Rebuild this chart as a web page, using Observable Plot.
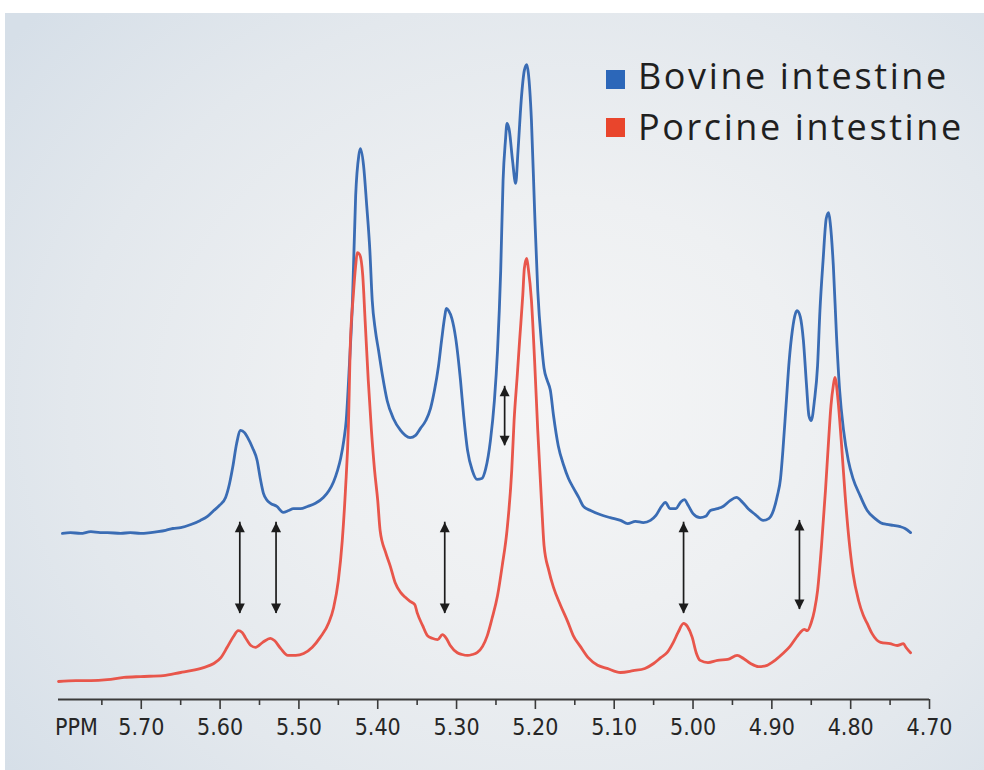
<!DOCTYPE html>
<html>
<head>
<meta charset="utf-8">
<script src="https://cdn.jsdelivr.net/npm/d3@7"></script>
<script src="https://cdn.jsdelivr.net/npm/@observablehq/plot@0.6"></script>
<style>
  html, body { margin: 0; padding: 0; background: #ffffff; }
  #wrap { position: relative; width: 984px; height: 770px; overflow: hidden; }
  #backdrop {
    position: absolute; left: 5px; top: 13px; right: 0; bottom: 0;
    background: radial-gradient(ellipse 72% 78% at 57% 52%, #f4f5f6 0%, #eef0f2 35%, #e3e8ed 70%, #d6dfe8 100%);
  }
  #chart { position: absolute; left: 0; top: 0; }
  .key-swatch { position: absolute; width: 19px; height: 19px; }
  .key-label {
    position: absolute; font-family: "Open Sans", "Noto Sans", sans-serif;
    font-size: 36px; line-height: 36px; letter-spacing: 2.6px; color: #1f1f1f; white-space: nowrap;
  }
</style>
</head>
<body>
<div id="wrap">
  <div id="backdrop"></div>
  <div id="chart"></div>
  <div class="key-swatch" style="left:606px; top:70px; background:#2c67b9;"></div>
  <div class="key-label" style="left:638px; top:58px;">Bovine intestine</div>
  <div class="key-swatch" style="left:606px; top:118px; background:#e9452c;"></div>
  <div class="key-label" style="left:638px; top:109px;">Porcine intestine</div>
</div>
<script>
// 1H NMR spectra, anomeric region: [chemical shift (ppm), intensity]
// Intensities share one arbitrary scale (tallest porcine peak ≈ 100).
const bovine = [
  [5.800,3.9],[5.790,4.1],[5.777,3.9],[5.764,4.3],[5.752,4.1],[5.743,4.1],[5.726,3.9],[5.714,4.1],
  [5.701,3.9],[5.688,4.1],[5.679,4.3],[5.669,4.6],[5.660,5.0],[5.650,5.2],[5.637,5.9],[5.625,6.8],
  [5.616,7.7],[5.608,9.0],[5.601,10.1],[5.593,11.9],[5.588,15.0],[5.584,18.6],[5.579,23.9],[5.574,26.8],
  [5.569,26.3],[5.565,25.2],[5.559,23.0],[5.553,20.1],[5.549,16.1],[5.545,12.8],[5.540,11.2],[5.536,10.6],
  [5.528,9.9],[5.520,8.6],[5.513,9.0],[5.507,9.4],[5.498,9.4],[5.489,9.9],[5.479,10.6],[5.469,11.9],
  [5.462,13.4],[5.456,15.4],[5.451,17.9],[5.447,20.6],[5.443,24.6],[5.440,29.0],[5.436,41.2],[5.432,55.7],
  [5.428,79.0],[5.424,87.9],[5.422,89.4],[5.418,85.7],[5.414,76.8],[5.410,66.8],[5.407,55.7],[5.403,49.0],
  [5.399,44.6],[5.394,39.0],[5.388,33.4],[5.380,29.4],[5.371,26.8],[5.365,25.7],[5.359,25.2],[5.352,25.7],
  [5.346,27.2],[5.339,29.0],[5.333,31.7],[5.328,35.7],[5.323,41.0],[5.319,46.8],[5.315,52.1],[5.313,53.9],
  [5.310,53.4],[5.306,51.7],[5.301,47.2],[5.295,37.9],[5.291,30.1],[5.286,22.3],[5.280,17.9],[5.274,15.9],
  [5.268,16.1],[5.263,18.3],[5.257,24.6],[5.252,33.4],[5.248,44.6],[5.244,62.3],[5.241,82.3],[5.238,91.2],
  [5.236,95.0],[5.233,93.4],[5.229,86.8],[5.225,81.7],[5.222,89.0],[5.218,100.1],[5.214,106.8],[5.211,108.1],
  [5.209,106.3],[5.205,95.7],[5.201,75.7],[5.197,57.9],[5.192,45.7],[5.189,40.6],[5.185,37.9],[5.181,35.7],
  [5.177,30.1],[5.171,23.4],[5.164,19.0],[5.158,16.1],[5.152,14.1],[5.145,11.9],[5.139,9.9],[5.130,9.0],
  [5.118,8.1],[5.105,7.4],[5.092,6.8],[5.083,6.1],[5.073,6.6],[5.063,6.3],[5.054,6.8],[5.047,7.9],
  [5.040,9.9],[5.035,10.8],[5.029,9.4],[5.022,9.4],[5.016,10.8],[5.011,11.4],[5.006,10.1],[5.000,8.3],
  [4.991,7.4],[4.984,7.7],[4.978,9.0],[4.969,9.4],[4.962,9.9],[4.953,11.2],[4.945,11.9],[4.937,10.8],
  [4.930,9.4],[4.921,8.1],[4.911,6.8],[4.904,7.2],[4.898,9.0],[4.893,12.3],[4.889,16.1],[4.886,22.3],
  [4.882,32.3],[4.878,42.3],[4.874,49.0],[4.870,52.8],[4.868,53.4],[4.864,52.1],[4.860,46.8],[4.856,36.8],
  [4.853,30.1],[4.850,29.0],[4.846,33.4],[4.842,41.2],[4.839,53.4],[4.835,64.6],[4.831,73.9],[4.828,75.2],
  [4.826,73.0],[4.822,63.4],[4.818,47.9],[4.814,35.7],[4.809,26.8],[4.803,20.1],[4.797,16.1],[4.788,12.3],
  [4.779,9.0],[4.769,7.2],[4.762,6.3],[4.754,5.9],[4.746,5.7],[4.737,5.4],[4.731,5.0],[4.724,4.1]
];

const porcine = [
  [5.805,4.0],[5.783,4.2],[5.764,4.2],[5.743,4.4],[5.722,4.9],[5.701,5.1],[5.672,5.3],[5.650,6.0],
  [5.637,6.4],[5.621,7.1],[5.608,8.0],[5.599,9.3],[5.591,11.6],[5.583,14.0],[5.577,15.3],[5.572,14.9],
  [5.568,13.8],[5.561,12.0],[5.555,11.6],[5.546,12.7],[5.536,13.6],[5.531,13.1],[5.523,11.3],[5.514,9.8],
  [5.504,9.8],[5.494,10.2],[5.483,11.6],[5.473,13.8],[5.462,17.1],[5.456,20.4],[5.450,26.4],[5.445,35.3],
  [5.441,46.4],[5.437,62.0],[5.435,77.6],[5.431,89.8],[5.428,96.4],[5.426,99.3],[5.423,98.9],[5.419,94.2],
  [5.416,84.2],[5.412,70.9],[5.408,59.8],[5.404,50.9],[5.400,44.2],[5.397,37.6],[5.390,32.7],[5.384,29.6],
  [5.378,26.0],[5.371,23.8],[5.365,22.7],[5.359,21.8],[5.353,21.1],[5.350,19.3],[5.343,16.4],[5.337,14.2],
  [5.331,13.6],[5.324,13.3],[5.318,14.4],[5.313,13.6],[5.308,12.0],[5.299,10.4],[5.293,10.0],[5.286,9.8],
  [5.280,10.0],[5.274,10.4],[5.267,11.8],[5.261,14.2],[5.255,18.0],[5.248,23.1],[5.242,29.8],[5.236,37.6],
  [5.230,50.9],[5.227,62.0],[5.223,72.0],[5.220,79.8],[5.216,89.8],[5.214,95.8],[5.211,98.0],[5.209,95.8],
  [5.205,88.7],[5.201,75.3],[5.197,59.8],[5.192,43.1],[5.189,34.2],[5.183,28.7],[5.177,24.9],[5.168,20.9],
  [5.159,17.3],[5.152,14.2],[5.143,11.8],[5.133,9.3],[5.121,7.6],[5.109,6.9],[5.092,6.0],[5.076,6.4],
  [5.061,6.9],[5.050,8.0],[5.041,9.3],[5.033,10.4],[5.025,12.7],[5.019,14.9],[5.012,16.9],[5.007,16.2],
  [5.001,13.8],[4.996,10.4],[4.991,8.7],[4.981,8.2],[4.969,8.7],[4.956,8.9],[4.944,9.8],[4.936,9.1],
  [4.927,8.0],[4.917,7.3],[4.906,7.6],[4.896,8.7],[4.886,10.2],[4.877,11.8],[4.868,14.0],[4.864,14.9],
  [4.859,15.6],[4.855,15.3],[4.850,17.1],[4.846,19.8],[4.842,24.2],[4.837,34.2],[4.832,46.4],[4.828,57.6],
  [4.825,65.3],[4.822,69.8],[4.820,71.6],[4.816,66.4],[4.812,57.6],[4.807,45.3],[4.802,35.3],[4.797,28.0],
  [4.790,22.0],[4.784,18.7],[4.779,16.9],[4.773,14.7],[4.762,12.7],[4.750,12.4],[4.741,12.0],[4.733,12.4],
  [4.730,11.6],[4.724,10.4]
];

// The bovine trace is drawn raised above the porcine one
const bovineLift = 33;

// Shifts whose signals differ between the two sources (shaft ends in plotted units)
const arrowPpm  = [5.575, 5.529, 5.315, 5.239, 5.012, 4.865];
const arrowHigh = [39.4, 39.4, 39.4, 69.6, 39.4, 39.8];
const arrowLow  = [19.1, 19.1, 19.1, 56.4, 19.1, 20.0];

const majorTicks = [5.70, 5.60, 5.50, 5.40, 5.30, 5.20, 5.10, 5.00, 4.90, 4.80, 4.70];
const minorTicks = [5.75, 5.65, 5.55, 5.45, 5.35, 5.25, 5.15, 5.05, 4.95, 4.85, 4.75];
const unitLabel = "PPM";

const arrows = arrowPpm.map((ppm, i) => ({ppm, high: arrowHigh[i], low: arrowLow[i]}));

const blue = "#3a6cb4";
const red = "#e8564b";
const ink = "#1c1c1c";
const axisInk = "#3a3a3a";
const tickFont = "'Liberation Sans Narrow', 'DejaVu Sans Condensed', 'Arial Narrow', sans-serif";

// Filled arrowheads with the tip at the anchor point
const headUp = {draw(ctx) { ctx.moveTo(0, 0); ctx.lineTo(5, 10); ctx.lineTo(-5, 10); ctx.closePath(); }};
const headDown = {draw(ctx) { ctx.moveTo(0, 0); ctx.lineTo(5, -10); ctx.lineTo(-5, -10); ctx.closePath(); }};

const chart = Plot.plot({
  width: 984,
  height: 770,
  marginLeft: 58,
  marginRight: 55,
  marginTop: 60,
  marginBottom: 71,
  style: {background: "transparent", overflow: "visible"},
  x: {domain: [5.805, 4.70], label: null},
  y: {domain: [0, 142], axis: null},
  marks: [
    Plot.ruleY([0], {stroke: axisInk, strokeWidth: 2}),
    Plot.axisX(minorTicks, {tickSize: 6, tickFormat: () => "", stroke: axisInk, strokeWidth: 1.6, label: null}),
    Plot.axisX(majorTicks, {
      tickSize: 10, tickPadding: 9, tickFormat: d => d.toFixed(2),
      stroke: axisInk, strokeWidth: 1.6, fill: "#262626",
      fontSize: 23, fontFamily: tickFont, label: null
    }),
    Plot.text([unitLabel], {
      frameAnchor: "bottom-left", dx: 18, dy: 19, lineAnchor: "top", textAnchor: "middle",
      fontSize: 23, fontFamily: tickFont, fill: "#262626"
    }),
    Plot.line(bovine, {x: d => d[0], y: d => d[1] + bovineLift, stroke: blue, strokeWidth: 2.8, curve: "monotone-x"}),
    Plot.line(porcine, {x: d => d[0], y: d => d[1], stroke: red, strokeWidth: 2.8, curve: "monotone-x"}),
    Plot.ruleX(arrows, {x: "ppm", y1: "low", y2: "high", stroke: ink, strokeWidth: 1.7}),
    Plot.dot(arrows, {x: "ppm", y: "high", symbol: headUp, fill: ink, stroke: null}),
    Plot.dot(arrows, {x: "ppm", y: "low", symbol: headDown, fill: ink, stroke: null})
  ]
});

document.getElementById("chart").appendChild(chart);
</script>
</body>
</html>
